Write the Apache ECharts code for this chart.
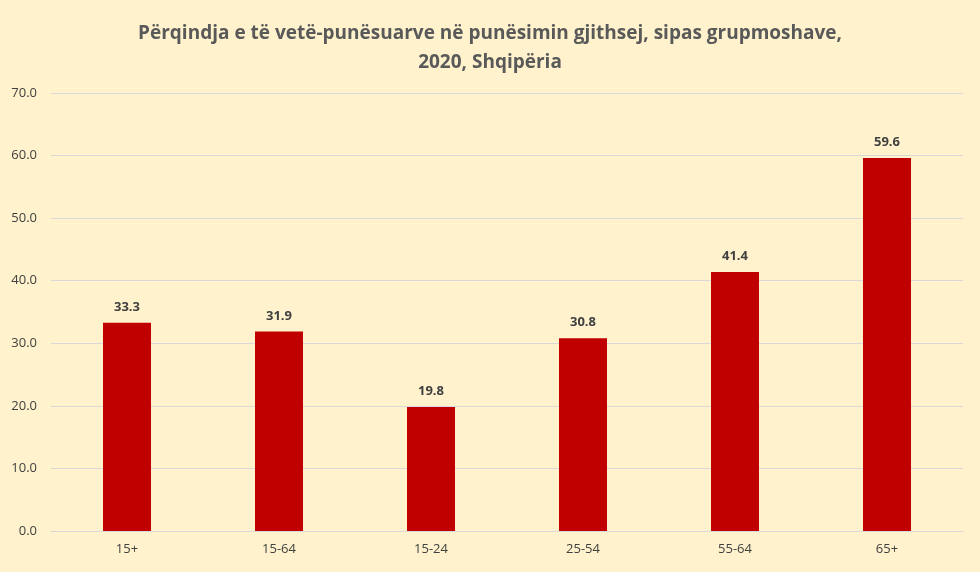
<!DOCTYPE html>
<html><head><meta charset="utf-8">
<script src="https://cdn.jsdelivr.net/npm/echarts@6/dist/echarts.min.js"></script>
<style>html,body{margin:0;padding:0;background:#FFF2CC;}#c{width:980px;height:572px;}</style>
</head><body><div id="c"></div>
<script>
const categories = ['15+','15-64','15-24','25-54','55-64','65+'];
const values = [33.3,31.9,19.8,30.8,41.4,59.6];
const titleText = 'Përqindja e të vetë-punësuarve në punësimin gjithsej, sipas grupmoshave,\n2020, Shqipëria';
const chart = echarts.init(document.getElementById('c'));
chart.setOption({
  backgroundColor:'#FFF2CC',
  title:{text:titleText,left:'center',top:14,textStyle:{fontFamily:'Open Sans',fontWeight:'bold',fontSize:19,color:'#595959',lineHeight:29}},
  grid:{left:51,right:17,top:93,bottom:41,containLabel:false},
  xAxis:{type:'category',data:categories,axisTick:{show:false},axisLine:{lineStyle:{color:'#D9D9D9'}},
    axisLabel:{color:'#404040',fontSize:13,fontFamily:'Open Sans',margin:12}},
  yAxis:{type:'value',min:0,max:70,interval:10,axisLine:{show:false},axisTick:{show:false},
    splitLine:{lineStyle:{color:'#D9D9D9'}},
    axisLabel:{color:'#404040',fontSize:13,fontFamily:'Open Sans',formatter:v=>v.toFixed(1),margin:14}},
  series:[{type:'bar',data:values,barWidth:48,itemStyle:{color:'#C00000'},
    label:{show:true,position:'top',distance:9,formatter:p=>p.value.toFixed(1),color:'#404040',fontWeight:'bold',fontSize:13,fontFamily:'Open Sans'}}]
});
</script></body></html>
